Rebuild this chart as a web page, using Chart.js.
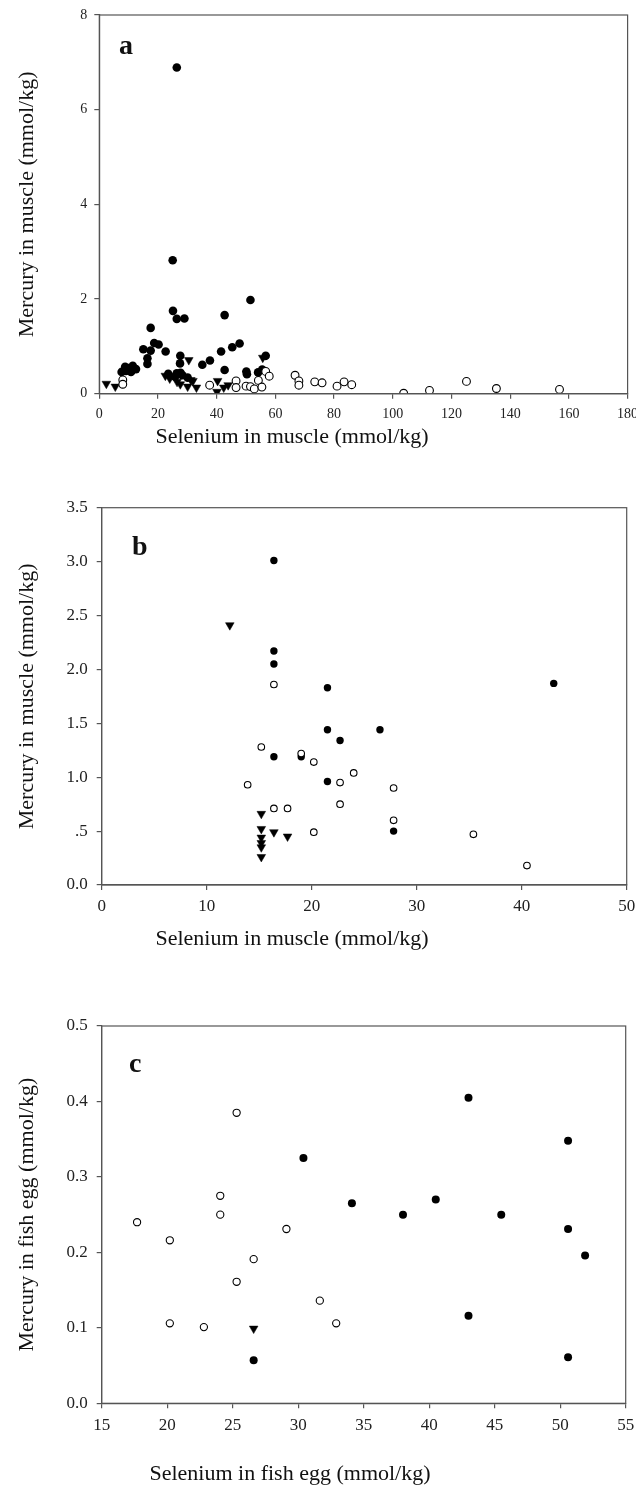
<!DOCTYPE html>
<html>
<head>
<meta charset="utf-8">
<script src="https://cdn.jsdelivr.net/npm/chart.js@4.4.1/dist/chart.umd.min.js"></script>
<style>
  html, body { margin: 0; padding: 0; background: #fff; }
  body { width: 636px; height: 1494px; position: relative; overflow: hidden; }
  canvas { position: absolute; left: 0; }
</style>
</head>
<body>
<canvas id="ca" width="636" height="460" style="top:0px"></canvas>
<canvas id="cb" width="636" height="500" style="top:460px"></canvas>
<canvas id="cc" width="636" height="534" style="top:960px"></canvas>
<script>
// ---------- Panel a : Selenium vs Mercury in muscle ----------
const aFilledX = [26.4, 25.0, 25.1, 26.4, 29.0, 51.5, 42.7, 17.5, 15.0, 17.5, 18.7, 20.2, 22.6, 16.4, 16.4, 27.6, 27.5, 35.1, 37.7, 41.5, 45.3, 47.8, 42.7, 56.7, 50.1, 50.3, 54.1, 55.5, 7.6, 8.8, 9.9, 11.4, 12.5, 10.8, 9.1, 23.5, 26.4, 27.7, 30.1, 25.8, 28.3];
const aFilledY = [6.89, 2.82, 1.75, 1.58, 1.59, 1.98, 1.66, 1.39, 0.94, 0.91, 1.07, 1.04, 0.89, 0.75, 0.63, 0.80, 0.64, 0.61, 0.70, 0.89, 0.98, 1.06, 0.50, 0.80, 0.47, 0.41, 0.45, 0.51, 0.46, 0.57, 0.54, 0.59, 0.52, 0.46, 0.48, 0.42, 0.43, 0.44, 0.34, 0.36, 0.39];
const aOpenX = [8.0, 8.0, 37.6, 46.6, 46.6, 50.0, 51.5, 52.8, 54.2, 55.4, 56.7, 57.9, 66.7, 68.0, 68.0, 73.4, 75.9, 81.0, 83.4, 86.0, 103.7, 112.5, 125.1, 135.3, 156.8];
const aOpenY = [0.29, 0.20, 0.18, 0.27, 0.13, 0.16, 0.15, 0.10, 0.28, 0.14, 0.47, 0.37, 0.39, 0.27, 0.18, 0.25, 0.23, 0.16, 0.25, 0.19, 0.01, 0.07, 0.26, 0.11, 0.09];
const aTriX = [2.4, 5.45, 22.5, 24.0, 30.5, 26.5, 27.6, 30.1, 31.9, 33.1, 40.3, 40.1, 42.4, 43.9, 55.7, 31.2];
const aTriY = [0.21, 0.15, 0.38, 0.32, 0.71, 0.25, 0.20, 0.15, 0.27, 0.13, 0.27, 0.04, 0.13, 0.18, 0.76, 0.29];
const aXTicks = [0, 20, 40, 60, 80, 100, 120, 140, 160, 180];
const aYTicks = [0, 2, 4, 6, 8];

// ---------- Panel b ----------
const bFilledX = [16.4, 16.4, 16.4, 16.4, 21.5, 21.5, 22.7, 21.5, 19.0, 26.5, 27.8, 43.05];
const bFilledY = [3.01, 2.17, 2.05, 1.19, 1.83, 1.44, 1.34, 0.96, 1.19, 1.44, 0.50, 1.87];
const bOpenX = [16.4, 15.2, 13.9, 16.4, 17.7, 19.0, 20.2, 20.2, 22.7, 22.7, 24.0, 27.8, 27.8, 35.4, 40.5];
const bOpenY = [1.86, 1.28, 0.93, 0.71, 0.71, 1.22, 1.14, 0.49, 0.95, 0.75, 1.04, 0.90, 0.60, 0.47, 0.18];
const bTriX = [12.2, 15.2, 15.2, 15.2, 15.2, 15.2, 15.2, 16.4, 17.7];
const bTriY = [2.41, 0.66, 0.52, 0.44, 0.39, 0.35, 0.26, 0.49, 0.45];
const bXTicks = [0, 10, 20, 30, 40, 50];
const bYTicks = [0, 0.5, 1.0, 1.5, 2.0, 2.5, 3.0, 3.5];
const bYTickLabels = ['0.0', '.5', '1.0', '1.5', '2.0', '2.5', '3.0', '3.5'];

// ---------- Panel c : fish egg ----------
const cFilledX = [26.6, 30.4, 34.1, 38.0, 40.5, 43.0, 43.0, 45.5, 50.6, 50.6, 51.9, 50.6];
const cFilledY = [0.057, 0.325, 0.265, 0.250, 0.270, 0.405, 0.116, 0.250, 0.348, 0.231, 0.196, 0.061];
const cOpenX = [17.7, 20.2, 20.2, 22.8, 24.05, 24.05, 25.3, 25.3, 26.6, 29.1, 31.65, 32.9];
const cOpenY = [0.240, 0.216, 0.106, 0.101, 0.275, 0.250, 0.385, 0.161, 0.191, 0.231, 0.136, 0.106];
const cTriX = [26.6];
const cTriY = [0.099];
const cXTicks = [15, 20, 25, 30, 35, 40, 45, 50, 55];
const cYTicks = [0, 0.1, 0.2, 0.3, 0.4, 0.5];
const cYTickLabels = ['0.0', '0.1', '0.2', '0.3', '0.4', '0.5'];

const FONT = "'Liberation Serif', 'Times New Roman', serif";
const AXIS = '#555555';

function pts(xs, ys) { return xs.map((x, i) => ({ x: x, y: ys[i] })); }

const framePlugin = {
  id: 'frame',
  afterDraw(chart, args, o) {
    const { ctx, chartArea: a } = chart;
    ctx.save();
    ctx.strokeStyle = AXIS;
    ctx.lineWidth = 1.2;
    ctx.strokeRect(a.left, a.top, a.right - a.left, a.bottom - a.top);
    // x-axis title and panel letter
    ctx.fillStyle = '#111';
    ctx.textBaseline = 'middle';
    ctx.textAlign = 'center';
    ctx.font = o.titleSize + 'px ' + FONT;
    ctx.fillText(o.xTitle, o.xTitleX, o.xTitleY);
    ctx.textAlign = 'left';
    ctx.textBaseline = 'alphabetic';
    ctx.font = 'bold ' + o.letterSize + 'px ' + FONT;
    ctx.fillText(o.letter, o.letterX, o.letterY);
    ctx.restore();
  }
};

function makePanel(id, p) {
  const datasets = [
    { label: 'open', data: pts(p.openX, p.openY), pointStyle: 'circle', pointRadius: p.r - 0.4,
      backgroundColor: '#ffffff', borderColor: '#000000', borderWidth: 1.1 },
    { label: 'tri', data: pts(p.triX, p.triY), pointStyle: 'triangle', rotation: 180, pointRadius: p.tr,
      backgroundColor: '#000000', borderColor: '#000000', borderWidth: 0.5 },
    { label: 'filled', data: pts(p.filledX, p.filledY), pointStyle: 'circle', pointRadius: p.r,
      backgroundColor: '#000000', borderColor: '#000000', borderWidth: 0 }
  ];
  return new Chart(document.getElementById(id), {
    type: 'scatter',
    data: { datasets: datasets },
    plugins: [framePlugin],
    options: {
      responsive: false,
      animation: false,
      devicePixelRatio: 1,
      events: [],
      layout: { padding: { top: p.padTop, right: p.padRight, left: 0, bottom: 0 } },
      plugins: {
        legend: { display: false },
        tooltip: { enabled: false },
        frame: { xTitle: p.xTitle, xTitleX: p.xTitleX, xTitleY: p.xTitleY, titleSize: 22,
                 letter: p.letter, letterX: p.letterX, letterY: p.letterY, letterSize: 28 }
      },
      scales: {
        x: {
          type: 'linear', min: p.xTicks[0], max: p.xTicks[p.xTicks.length - 1],
          afterBuildTicks: (s) => { s.ticks = p.xTicks.map(v => ({ value: v })); },
          afterFit: (s) => { s.height = p.xAxisH; s.paddingLeft = 0; s.paddingRight = 0; },
          ticks: { autoSkip: false, maxRotation: 0, padding: p.xTickPad,
                   font: { family: FONT, size: p.tickSize }, color: '#222' },
          grid: { display: true, drawOnChartArea: false, drawTicks: true, tickLength: 5,
                  color: AXIS, tickColor: AXIS, lineWidth: 1.2 },
          border: { display: true, color: AXIS, width: 1.2 }
        },
        y: {
          type: 'linear', min: p.yTicks[0], max: p.yTicks[p.yTicks.length - 1],
          afterBuildTicks: (s) => { s.ticks = p.yTicks.map(v => ({ value: v })); },
          afterFit: (s) => { s.width = p.yAxisW; s.paddingTop = 0; s.paddingBottom = 0; },
          ticks: { autoSkip: false, padding: p.yTickPad,
                   font: { family: FONT, size: p.tickSize }, color: '#222',
                   callback: (v) => { const i = p.yTicks.findIndex(t => Math.abs(t - v) < 1e-9);
                                      return p.yLabels ? p.yLabels[i] : String(v); } },
          grid: { display: true, drawOnChartArea: false, drawTicks: true, tickLength: 5,
                  color: AXIS, tickColor: AXIS, lineWidth: 1.2 },
          border: { display: true, color: AXIS, width: 1.2 },
          title: { display: true, text: p.yTitle, color: '#111',
                   font: { family: FONT, size: 22, lineHeight: 1.2 }, padding: { top: 14, bottom: 0 } }
        }
      }
    }
  });
}

makePanel('ca', {
  filledX: aFilledX, filledY: aFilledY, openX: aOpenX, openY: aOpenY, triX: aTriX, triY: aTriY,
  xTicks: aXTicks, yTicks: aYTicks, yLabels: null,
  r: 4.3, tr: 5, tickSize: 14, xTickPad: 7, yTickPad: 7,
  padTop: 15, padRight: 8.4, yAxisW: 99.3, xAxisH: 66.3,
  yTitle: 'Mercury in muscle (mmol/kg)',
  xTitle: 'Selenium in muscle (mmol/kg)', xTitleX: 292, xTitleY: 437,
  letter: 'a', letterX: 119, letterY: 54
});

makePanel('cb', {
  filledX: bFilledX, filledY: bFilledY, openX: bOpenX, openY: bOpenY, triX: bTriX, triY: bTriY,
  xTicks: bXTicks, yTicks: bYTicks, yLabels: bYTickLabels,
  r: 3.7, tr: 5, tickSize: 17, xTickPad: 6, yTickPad: 9,
  padTop: 47.7, padRight: 9.3, yAxisW: 101.7, xAxisH: 75,
  yTitle: 'Mercury in muscle (mmol/kg)',
  xTitle: 'Selenium in muscle (mmol/kg)', xTitleX: 292, xTitleY: 479,
  letter: 'b', letterX: 132, letterY: 95
});

makePanel('cc', {
  filledX: cFilledX, filledY: cFilledY, openX: cOpenX, openY: cOpenY, triX: cTriX, triY: cTriY,
  xTicks: cXTicks, yTicks: cYTicks, yLabels: cYTickLabels,
  r: 4.0, tr: 5, tickSize: 17, xTickPad: 7, yTickPad: 9,
  padTop: 66, padRight: 10.3, yAxisW: 101.7, xAxisH: 90.7,
  yTitle: 'Mercury in fish egg (mmol/kg)',
  xTitle: 'Selenium in fish egg (mmol/kg)', xTitleX: 290, xTitleY: 514,
  letter: 'c', letterX: 129, letterY: 112
});
</script>
</body>
</html>
